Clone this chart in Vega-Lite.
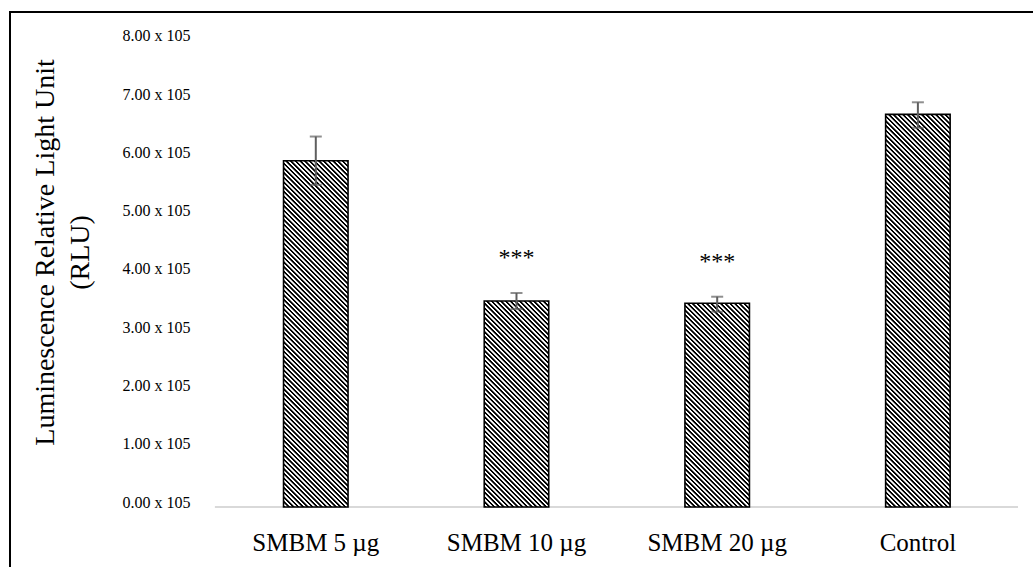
{
"$schema": "https://vega.github.io/schema/vega-lite/v6.json",
"width": 1023, "height": 555,
"autosize": {"type": "none"},
"padding": {"left": 10, "top": 12, "right": 0, "bottom": 0},
"background": "white",
"config": {"view": {"stroke": "#000", "strokeWidth": 2, "strokeDash": [1023, 1578, 555, 0], "strokeCap": "square"}, "font": "Liberation Serif"},
"data": {"values": [
 {"g": "SMBM 5 µg", "value": 594500, "lo": 553000, "hi": 636000, "star": ""},
 {"g": "SMBM 10 µg", "value": 353600, "lo": 339900, "hi": 367400, "star": "***"},
 {"g": "SMBM 20 µg", "value": 349700, "lo": 335300, "hi": 361000, "star": "***"},
 {"g": "Control", "value": 674000, "lo": 651000, "hi": 694800, "star": ""}
]},
"encoding": {
 "x": {"field": "g", "type": "nominal", "sort": null, "title": null,
  "scale": {"domain": ["SMBM 5 µg", "SMBM 10 µg", "SMBM 20 µg", "Control"], "paddingInner": 0.6786, "paddingOuter": 0.8879, "align": 0.7675},
  "axis": {"labelFont": "Liberation Serif", "labelFontSize": 25, "labelColor": "#000", "labelBaseline": "alphabetic", "labelPadding": -17, "ticks": false, "tickSize": 0, "domain": false, "grid": false, "labelAngle": 0}}
},
"layer": [
 {"mark": {"type": "rule", "color": "#d9d9d9", "strokeWidth": 2},
  "encoding": {"x": {"datum": "SMBM 5 µg", "bandPosition": -1.063}, "x2": {"datum": "Control", "bandPosition": 2.052}, "y": {"datum": 0, "type": "quantitative", "title": ["Luminescence Relative Light Unit", "(RLU)"]}}},
 {"mark": {"type": "bar", "stroke": "#000", "strokeWidth": 1.6},
  "encoding": {
   "y": {"field": "value", "type": "quantitative", "title": ["Luminescence Relative Light Unit", "(RLU)"],
    "scale": {"domain": [-103004, 849785], "zero": false, "nice": false},
    "axis": {"values": [0, 100000, 200000, 300000, 400000, 500000, 600000, 700000, 800000], "labelExpr": "format(datum.value/100000,'.2f') + ' x 105'", "grid": false, "domain": false, "ticks": false, "tickSize": 0, "labelPadding": -180, "labelFontSize": 16, "labelColor": "#000", "labelBaseline": "alphabetic", "labelFont": "Liberation Serif", "titleFont": "Liberation Serif", "titleFontSize": 28, "titleFontWeight": "normal", "titleColor": "#000", "titleX": 43, "titleY": 240, "titleAngle": -90, "titleAlign": "center", "titleBaseline": "alphabetic", "titleLineHeight": 35}},
   "y2": {"datum": 0},
   "fill": {"condition": [
     {"test": "datum.g == 'SMBM 5 µg'", "value": {"gradient": "linear", "x1": 0, "y1": 1, "x2": 0.2443, "y2": -0.3117, "stops": [
{"offset":0,"color":"#000"},{"offset":0.0035,"color":"#000"},{"offset":0.005,"color":"#fff"},{"offset":0.0085,"color":"#fff"},
{"offset":0.01,"color":"#000"},{"offset":0.0135,"color":"#000"},{"offset":0.015,"color":"#fff"},{"offset":0.0185,"color":"#fff"},
{"offset":0.02,"color":"#000"},{"offset":0.0235,"color":"#000"},{"offset":0.025,"color":"#fff"},{"offset":0.0285,"color":"#fff"},
{"offset":0.03,"color":"#000"},{"offset":0.0335,"color":"#000"},{"offset":0.035,"color":"#fff"},{"offset":0.0385,"color":"#fff"},
{"offset":0.04,"color":"#000"},{"offset":0.0435,"color":"#000"},{"offset":0.045,"color":"#fff"},{"offset":0.0485,"color":"#fff"},
{"offset":0.05,"color":"#000"},{"offset":0.0535,"color":"#000"},{"offset":0.055,"color":"#fff"},{"offset":0.0585,"color":"#fff"},
{"offset":0.06,"color":"#000"},{"offset":0.0635,"color":"#000"},{"offset":0.065,"color":"#fff"},{"offset":0.0685,"color":"#fff"},
{"offset":0.07,"color":"#000"},{"offset":0.0735,"color":"#000"},{"offset":0.075,"color":"#fff"},{"offset":0.0785,"color":"#fff"},
{"offset":0.08,"color":"#000"},{"offset":0.0835,"color":"#000"},{"offset":0.085,"color":"#fff"},{"offset":0.0885,"color":"#fff"},
{"offset":0.09,"color":"#000"},{"offset":0.0935,"color":"#000"},{"offset":0.095,"color":"#fff"},{"offset":0.0985,"color":"#fff"},
{"offset":0.1,"color":"#000"},{"offset":0.1035,"color":"#000"},{"offset":0.105,"color":"#fff"},{"offset":0.1085,"color":"#fff"},
{"offset":0.11,"color":"#000"},{"offset":0.1135,"color":"#000"},{"offset":0.115,"color":"#fff"},{"offset":0.1185,"color":"#fff"},
{"offset":0.12,"color":"#000"},{"offset":0.1235,"color":"#000"},{"offset":0.125,"color":"#fff"},{"offset":0.1285,"color":"#fff"},
{"offset":0.13,"color":"#000"},{"offset":0.1335,"color":"#000"},{"offset":0.135,"color":"#fff"},{"offset":0.1385,"color":"#fff"},
{"offset":0.14,"color":"#000"},{"offset":0.1435,"color":"#000"},{"offset":0.145,"color":"#fff"},{"offset":0.1485,"color":"#fff"},
{"offset":0.15,"color":"#000"},{"offset":0.1535,"color":"#000"},{"offset":0.155,"color":"#fff"},{"offset":0.1585,"color":"#fff"},
{"offset":0.16,"color":"#000"},{"offset":0.1635,"color":"#000"},{"offset":0.165,"color":"#fff"},{"offset":0.1685,"color":"#fff"},
{"offset":0.17,"color":"#000"},{"offset":0.1735,"color":"#000"},{"offset":0.175,"color":"#fff"},{"offset":0.1785,"color":"#fff"},
{"offset":0.18,"color":"#000"},{"offset":0.1835,"color":"#000"},{"offset":0.185,"color":"#fff"},{"offset":0.1885,"color":"#fff"},
{"offset":0.19,"color":"#000"},{"offset":0.1935,"color":"#000"},{"offset":0.195,"color":"#fff"},{"offset":0.1985,"color":"#fff"},
{"offset":0.2,"color":"#000"},{"offset":0.2035,"color":"#000"},{"offset":0.205,"color":"#fff"},{"offset":0.2085,"color":"#fff"},
{"offset":0.21,"color":"#000"},{"offset":0.2135,"color":"#000"},{"offset":0.215,"color":"#fff"},{"offset":0.2185,"color":"#fff"},
{"offset":0.22,"color":"#000"},{"offset":0.2235,"color":"#000"},{"offset":0.225,"color":"#fff"},{"offset":0.2285,"color":"#fff"},
{"offset":0.23,"color":"#000"},{"offset":0.2335,"color":"#000"},{"offset":0.235,"color":"#fff"},{"offset":0.2385,"color":"#fff"},
{"offset":0.24,"color":"#000"},{"offset":0.2435,"color":"#000"},{"offset":0.245,"color":"#fff"},{"offset":0.2485,"color":"#fff"},
{"offset":0.25,"color":"#000"},{"offset":0.2535,"color":"#000"},{"offset":0.255,"color":"#fff"},{"offset":0.2585,"color":"#fff"},
{"offset":0.26,"color":"#000"},{"offset":0.2635,"color":"#000"},{"offset":0.265,"color":"#fff"},{"offset":0.2685,"color":"#fff"},
{"offset":0.27,"color":"#000"},{"offset":0.2735,"color":"#000"},{"offset":0.275,"color":"#fff"},{"offset":0.2785,"color":"#fff"},
{"offset":0.28,"color":"#000"},{"offset":0.2835,"color":"#000"},{"offset":0.285,"color":"#fff"},{"offset":0.2885,"color":"#fff"},
{"offset":0.29,"color":"#000"},{"offset":0.2935,"color":"#000"},{"offset":0.295,"color":"#fff"},{"offset":0.2985,"color":"#fff"},
{"offset":0.3,"color":"#000"},{"offset":0.3035,"color":"#000"},{"offset":0.305,"color":"#fff"},{"offset":0.3085,"color":"#fff"},
{"offset":0.31,"color":"#000"},{"offset":0.3135,"color":"#000"},{"offset":0.315,"color":"#fff"},{"offset":0.3185,"color":"#fff"},
{"offset":0.32,"color":"#000"},{"offset":0.3235,"color":"#000"},{"offset":0.325,"color":"#fff"},{"offset":0.3285,"color":"#fff"},
{"offset":0.33,"color":"#000"},{"offset":0.3335,"color":"#000"},{"offset":0.335,"color":"#fff"},{"offset":0.3385,"color":"#fff"},
{"offset":0.34,"color":"#000"},{"offset":0.3435,"color":"#000"},{"offset":0.345,"color":"#fff"},{"offset":0.3485,"color":"#fff"},
{"offset":0.35,"color":"#000"},{"offset":0.3535,"color":"#000"},{"offset":0.355,"color":"#fff"},{"offset":0.3585,"color":"#fff"},
{"offset":0.36,"color":"#000"},{"offset":0.3635,"color":"#000"},{"offset":0.365,"color":"#fff"},{"offset":0.3685,"color":"#fff"},
{"offset":0.37,"color":"#000"},{"offset":0.3735,"color":"#000"},{"offset":0.375,"color":"#fff"},{"offset":0.3785,"color":"#fff"},
{"offset":0.38,"color":"#000"},{"offset":0.3835,"color":"#000"},{"offset":0.385,"color":"#fff"},{"offset":0.3885,"color":"#fff"},
{"offset":0.39,"color":"#000"},{"offset":0.3935,"color":"#000"},{"offset":0.395,"color":"#fff"},{"offset":0.3985,"color":"#fff"},
{"offset":0.4,"color":"#000"},{"offset":0.4035,"color":"#000"},{"offset":0.405,"color":"#fff"},{"offset":0.4085,"color":"#fff"},
{"offset":0.41,"color":"#000"},{"offset":0.4135,"color":"#000"},{"offset":0.415,"color":"#fff"},{"offset":0.4185,"color":"#fff"},
{"offset":0.42,"color":"#000"},{"offset":0.4235,"color":"#000"},{"offset":0.425,"color":"#fff"},{"offset":0.4285,"color":"#fff"},
{"offset":0.43,"color":"#000"},{"offset":0.4335,"color":"#000"},{"offset":0.435,"color":"#fff"},{"offset":0.4385,"color":"#fff"},
{"offset":0.44,"color":"#000"},{"offset":0.4435,"color":"#000"},{"offset":0.445,"color":"#fff"},{"offset":0.4485,"color":"#fff"},
{"offset":0.45,"color":"#000"},{"offset":0.4535,"color":"#000"},{"offset":0.455,"color":"#fff"},{"offset":0.4585,"color":"#fff"},
{"offset":0.46,"color":"#000"},{"offset":0.4635,"color":"#000"},{"offset":0.465,"color":"#fff"},{"offset":0.4685,"color":"#fff"},
{"offset":0.47,"color":"#000"},{"offset":0.4735,"color":"#000"},{"offset":0.475,"color":"#fff"},{"offset":0.4785,"color":"#fff"},
{"offset":0.48,"color":"#000"},{"offset":0.4835,"color":"#000"},{"offset":0.485,"color":"#fff"},{"offset":0.4885,"color":"#fff"},
{"offset":0.49,"color":"#000"},{"offset":0.4935,"color":"#000"},{"offset":0.495,"color":"#fff"},{"offset":0.4985,"color":"#fff"},
{"offset":0.5,"color":"#000"},{"offset":0.5035,"color":"#000"},{"offset":0.505,"color":"#fff"},{"offset":0.5085,"color":"#fff"},
{"offset":0.51,"color":"#000"},{"offset":0.5135,"color":"#000"},{"offset":0.515,"color":"#fff"},{"offset":0.5185,"color":"#fff"},
{"offset":0.52,"color":"#000"},{"offset":0.5235,"color":"#000"},{"offset":0.525,"color":"#fff"},{"offset":0.5285,"color":"#fff"},
{"offset":0.53,"color":"#000"},{"offset":0.5335,"color":"#000"},{"offset":0.535,"color":"#fff"},{"offset":0.5385,"color":"#fff"},
{"offset":0.54,"color":"#000"},{"offset":0.5435,"color":"#000"},{"offset":0.545,"color":"#fff"},{"offset":0.5485,"color":"#fff"},
{"offset":0.55,"color":"#000"},{"offset":0.5535,"color":"#000"},{"offset":0.555,"color":"#fff"},{"offset":0.5585,"color":"#fff"},
{"offset":0.56,"color":"#000"},{"offset":0.5635,"color":"#000"},{"offset":0.565,"color":"#fff"},{"offset":0.5685,"color":"#fff"},
{"offset":0.57,"color":"#000"},{"offset":0.5735,"color":"#000"},{"offset":0.575,"color":"#fff"},{"offset":0.5785,"color":"#fff"},
{"offset":0.58,"color":"#000"},{"offset":0.5835,"color":"#000"},{"offset":0.585,"color":"#fff"},{"offset":0.5885,"color":"#fff"},
{"offset":0.59,"color":"#000"},{"offset":0.5935,"color":"#000"},{"offset":0.595,"color":"#fff"},{"offset":0.5985,"color":"#fff"},
{"offset":0.6,"color":"#000"},{"offset":0.6035,"color":"#000"},{"offset":0.605,"color":"#fff"},{"offset":0.6085,"color":"#fff"},
{"offset":0.61,"color":"#000"},{"offset":0.6135,"color":"#000"},{"offset":0.615,"color":"#fff"},{"offset":0.6185,"color":"#fff"},
{"offset":0.62,"color":"#000"},{"offset":0.6235,"color":"#000"},{"offset":0.625,"color":"#fff"},{"offset":0.6285,"color":"#fff"},
{"offset":0.63,"color":"#000"},{"offset":0.6335,"color":"#000"},{"offset":0.635,"color":"#fff"},{"offset":0.6385,"color":"#fff"},
{"offset":0.64,"color":"#000"},{"offset":0.6435,"color":"#000"},{"offset":0.645,"color":"#fff"},{"offset":0.6485,"color":"#fff"},
{"offset":0.65,"color":"#000"},{"offset":0.6535,"color":"#000"},{"offset":0.655,"color":"#fff"},{"offset":0.6585,"color":"#fff"},
{"offset":0.66,"color":"#000"},{"offset":0.6635,"color":"#000"},{"offset":0.665,"color":"#fff"},{"offset":0.6685,"color":"#fff"},
{"offset":0.67,"color":"#000"},{"offset":0.6735,"color":"#000"},{"offset":0.675,"color":"#fff"},{"offset":0.6785,"color":"#fff"},
{"offset":0.68,"color":"#000"},{"offset":0.6835,"color":"#000"},{"offset":0.685,"color":"#fff"},{"offset":0.6885,"color":"#fff"},
{"offset":0.69,"color":"#000"},{"offset":0.6935,"color":"#000"},{"offset":0.695,"color":"#fff"},{"offset":0.6985,"color":"#fff"},
{"offset":0.7,"color":"#000"},{"offset":0.7035,"color":"#000"},{"offset":0.705,"color":"#fff"},{"offset":0.7085,"color":"#fff"},
{"offset":0.71,"color":"#000"},{"offset":0.7135,"color":"#000"},{"offset":0.715,"color":"#fff"},{"offset":0.7185,"color":"#fff"},
{"offset":0.72,"color":"#000"},{"offset":0.7235,"color":"#000"},{"offset":0.725,"color":"#fff"},{"offset":0.7285,"color":"#fff"},
{"offset":0.73,"color":"#000"},{"offset":0.7335,"color":"#000"},{"offset":0.735,"color":"#fff"},{"offset":0.7385,"color":"#fff"},
{"offset":0.74,"color":"#000"},{"offset":0.7435,"color":"#000"},{"offset":0.745,"color":"#fff"},{"offset":0.7485,"color":"#fff"},
{"offset":0.75,"color":"#000"},{"offset":0.7535,"color":"#000"},{"offset":0.755,"color":"#fff"},{"offset":0.7585,"color":"#fff"},
{"offset":0.76,"color":"#000"},{"offset":0.7635,"color":"#000"},{"offset":0.765,"color":"#fff"},{"offset":0.7685,"color":"#fff"},
{"offset":0.77,"color":"#000"},{"offset":0.7735,"color":"#000"},{"offset":0.775,"color":"#fff"},{"offset":0.7785,"color":"#fff"},
{"offset":0.78,"color":"#000"},{"offset":0.7835,"color":"#000"},{"offset":0.785,"color":"#fff"},{"offset":0.7885,"color":"#fff"},
{"offset":0.79,"color":"#000"},{"offset":0.7935,"color":"#000"},{"offset":0.795,"color":"#fff"},{"offset":0.7985,"color":"#fff"},
{"offset":0.8,"color":"#000"},{"offset":0.8035,"color":"#000"},{"offset":0.805,"color":"#fff"},{"offset":0.8085,"color":"#fff"},
{"offset":0.81,"color":"#000"},{"offset":0.8135,"color":"#000"},{"offset":0.815,"color":"#fff"},{"offset":0.8185,"color":"#fff"},
{"offset":0.82,"color":"#000"},{"offset":0.8235,"color":"#000"},{"offset":0.825,"color":"#fff"},{"offset":0.8285,"color":"#fff"},
{"offset":0.83,"color":"#000"},{"offset":0.8335,"color":"#000"},{"offset":0.835,"color":"#fff"},{"offset":0.8385,"color":"#fff"},
{"offset":0.84,"color":"#000"},{"offset":0.8435,"color":"#000"},{"offset":0.845,"color":"#fff"},{"offset":0.8485,"color":"#fff"},
{"offset":0.85,"color":"#000"},{"offset":0.8535,"color":"#000"},{"offset":0.855,"color":"#fff"},{"offset":0.8585,"color":"#fff"},
{"offset":0.86,"color":"#000"},{"offset":0.8635,"color":"#000"},{"offset":0.865,"color":"#fff"},{"offset":0.8685,"color":"#fff"},
{"offset":0.87,"color":"#000"},{"offset":0.8735,"color":"#000"},{"offset":0.875,"color":"#fff"},{"offset":0.8785,"color":"#fff"},
{"offset":0.88,"color":"#000"}
     ]}},
     {"test": "datum.g == 'Control'", "value": {"gradient": "linear", "x1": 0, "y1": 1, "x2": 0.1915, "y2": -0.1657, "stops": [
{"offset":0,"color":"#000"},{"offset":0.0035,"color":"#000"},{"offset":0.005,"color":"#fff"},{"offset":0.0085,"color":"#fff"},
{"offset":0.01,"color":"#000"},{"offset":0.0135,"color":"#000"},{"offset":0.015,"color":"#fff"},{"offset":0.0185,"color":"#fff"},
{"offset":0.02,"color":"#000"},{"offset":0.0235,"color":"#000"},{"offset":0.025,"color":"#fff"},{"offset":0.0285,"color":"#fff"},
{"offset":0.03,"color":"#000"},{"offset":0.0335,"color":"#000"},{"offset":0.035,"color":"#fff"},{"offset":0.0385,"color":"#fff"},
{"offset":0.04,"color":"#000"},{"offset":0.0435,"color":"#000"},{"offset":0.045,"color":"#fff"},{"offset":0.0485,"color":"#fff"},
{"offset":0.05,"color":"#000"},{"offset":0.0535,"color":"#000"},{"offset":0.055,"color":"#fff"},{"offset":0.0585,"color":"#fff"},
{"offset":0.06,"color":"#000"},{"offset":0.0635,"color":"#000"},{"offset":0.065,"color":"#fff"},{"offset":0.0685,"color":"#fff"},
{"offset":0.07,"color":"#000"},{"offset":0.0735,"color":"#000"},{"offset":0.075,"color":"#fff"},{"offset":0.0785,"color":"#fff"},
{"offset":0.08,"color":"#000"},{"offset":0.0835,"color":"#000"},{"offset":0.085,"color":"#fff"},{"offset":0.0885,"color":"#fff"},
{"offset":0.09,"color":"#000"},{"offset":0.0935,"color":"#000"},{"offset":0.095,"color":"#fff"},{"offset":0.0985,"color":"#fff"},
{"offset":0.1,"color":"#000"},{"offset":0.1035,"color":"#000"},{"offset":0.105,"color":"#fff"},{"offset":0.1085,"color":"#fff"},
{"offset":0.11,"color":"#000"},{"offset":0.1135,"color":"#000"},{"offset":0.115,"color":"#fff"},{"offset":0.1185,"color":"#fff"},
{"offset":0.12,"color":"#000"},{"offset":0.1235,"color":"#000"},{"offset":0.125,"color":"#fff"},{"offset":0.1285,"color":"#fff"},
{"offset":0.13,"color":"#000"},{"offset":0.1335,"color":"#000"},{"offset":0.135,"color":"#fff"},{"offset":0.1385,"color":"#fff"},
{"offset":0.14,"color":"#000"},{"offset":0.1435,"color":"#000"},{"offset":0.145,"color":"#fff"},{"offset":0.1485,"color":"#fff"},
{"offset":0.15,"color":"#000"},{"offset":0.1535,"color":"#000"},{"offset":0.155,"color":"#fff"},{"offset":0.1585,"color":"#fff"},
{"offset":0.16,"color":"#000"},{"offset":0.1635,"color":"#000"},{"offset":0.165,"color":"#fff"},{"offset":0.1685,"color":"#fff"},
{"offset":0.17,"color":"#000"},{"offset":0.1735,"color":"#000"},{"offset":0.175,"color":"#fff"},{"offset":0.1785,"color":"#fff"},
{"offset":0.18,"color":"#000"},{"offset":0.1835,"color":"#000"},{"offset":0.185,"color":"#fff"},{"offset":0.1885,"color":"#fff"},
{"offset":0.19,"color":"#000"},{"offset":0.1935,"color":"#000"},{"offset":0.195,"color":"#fff"},{"offset":0.1985,"color":"#fff"},
{"offset":0.2,"color":"#000"},{"offset":0.2035,"color":"#000"},{"offset":0.205,"color":"#fff"},{"offset":0.2085,"color":"#fff"},
{"offset":0.21,"color":"#000"},{"offset":0.2135,"color":"#000"},{"offset":0.215,"color":"#fff"},{"offset":0.2185,"color":"#fff"},
{"offset":0.22,"color":"#000"},{"offset":0.2235,"color":"#000"},{"offset":0.225,"color":"#fff"},{"offset":0.2285,"color":"#fff"},
{"offset":0.23,"color":"#000"},{"offset":0.2335,"color":"#000"},{"offset":0.235,"color":"#fff"},{"offset":0.2385,"color":"#fff"},
{"offset":0.24,"color":"#000"},{"offset":0.2435,"color":"#000"},{"offset":0.245,"color":"#fff"},{"offset":0.2485,"color":"#fff"},
{"offset":0.25,"color":"#000"},{"offset":0.2535,"color":"#000"},{"offset":0.255,"color":"#fff"},{"offset":0.2585,"color":"#fff"},
{"offset":0.26,"color":"#000"},{"offset":0.2635,"color":"#000"},{"offset":0.265,"color":"#fff"},{"offset":0.2685,"color":"#fff"},
{"offset":0.27,"color":"#000"},{"offset":0.2735,"color":"#000"},{"offset":0.275,"color":"#fff"},{"offset":0.2785,"color":"#fff"},
{"offset":0.28,"color":"#000"},{"offset":0.2835,"color":"#000"},{"offset":0.285,"color":"#fff"},{"offset":0.2885,"color":"#fff"},
{"offset":0.29,"color":"#000"},{"offset":0.2935,"color":"#000"},{"offset":0.295,"color":"#fff"},{"offset":0.2985,"color":"#fff"},
{"offset":0.3,"color":"#000"},{"offset":0.3035,"color":"#000"},{"offset":0.305,"color":"#fff"},{"offset":0.3085,"color":"#fff"},
{"offset":0.31,"color":"#000"},{"offset":0.3135,"color":"#000"},{"offset":0.315,"color":"#fff"},{"offset":0.3185,"color":"#fff"},
{"offset":0.32,"color":"#000"},{"offset":0.3235,"color":"#000"},{"offset":0.325,"color":"#fff"},{"offset":0.3285,"color":"#fff"},
{"offset":0.33,"color":"#000"},{"offset":0.3335,"color":"#000"},{"offset":0.335,"color":"#fff"},{"offset":0.3385,"color":"#fff"},
{"offset":0.34,"color":"#000"},{"offset":0.3435,"color":"#000"},{"offset":0.345,"color":"#fff"},{"offset":0.3485,"color":"#fff"},
{"offset":0.35,"color":"#000"},{"offset":0.3535,"color":"#000"},{"offset":0.355,"color":"#fff"},{"offset":0.3585,"color":"#fff"},
{"offset":0.36,"color":"#000"},{"offset":0.3635,"color":"#000"},{"offset":0.365,"color":"#fff"},{"offset":0.3685,"color":"#fff"},
{"offset":0.37,"color":"#000"},{"offset":0.3735,"color":"#000"},{"offset":0.375,"color":"#fff"},{"offset":0.3785,"color":"#fff"},
{"offset":0.38,"color":"#000"},{"offset":0.3835,"color":"#000"},{"offset":0.385,"color":"#fff"},{"offset":0.3885,"color":"#fff"},
{"offset":0.39,"color":"#000"},{"offset":0.3935,"color":"#000"},{"offset":0.395,"color":"#fff"},{"offset":0.3985,"color":"#fff"},
{"offset":0.4,"color":"#000"},{"offset":0.4035,"color":"#000"},{"offset":0.405,"color":"#fff"},{"offset":0.4085,"color":"#fff"},
{"offset":0.41,"color":"#000"},{"offset":0.4135,"color":"#000"},{"offset":0.415,"color":"#fff"},{"offset":0.4185,"color":"#fff"},
{"offset":0.42,"color":"#000"},{"offset":0.4235,"color":"#000"},{"offset":0.425,"color":"#fff"},{"offset":0.4285,"color":"#fff"},
{"offset":0.43,"color":"#000"},{"offset":0.4335,"color":"#000"},{"offset":0.435,"color":"#fff"},{"offset":0.4385,"color":"#fff"},
{"offset":0.44,"color":"#000"},{"offset":0.4435,"color":"#000"},{"offset":0.445,"color":"#fff"},{"offset":0.4485,"color":"#fff"},
{"offset":0.45,"color":"#000"},{"offset":0.4535,"color":"#000"},{"offset":0.455,"color":"#fff"},{"offset":0.4585,"color":"#fff"},
{"offset":0.46,"color":"#000"},{"offset":0.4635,"color":"#000"},{"offset":0.465,"color":"#fff"},{"offset":0.4685,"color":"#fff"},
{"offset":0.47,"color":"#000"},{"offset":0.4735,"color":"#000"},{"offset":0.475,"color":"#fff"},{"offset":0.4785,"color":"#fff"},
{"offset":0.48,"color":"#000"},{"offset":0.4835,"color":"#000"},{"offset":0.485,"color":"#fff"},{"offset":0.4885,"color":"#fff"},
{"offset":0.49,"color":"#000"},{"offset":0.4935,"color":"#000"},{"offset":0.495,"color":"#fff"},{"offset":0.4985,"color":"#fff"},
{"offset":0.5,"color":"#000"},{"offset":0.5035,"color":"#000"},{"offset":0.505,"color":"#fff"},{"offset":0.5085,"color":"#fff"},
{"offset":0.51,"color":"#000"},{"offset":0.5135,"color":"#000"},{"offset":0.515,"color":"#fff"},{"offset":0.5185,"color":"#fff"},
{"offset":0.52,"color":"#000"},{"offset":0.5235,"color":"#000"},{"offset":0.525,"color":"#fff"},{"offset":0.5285,"color":"#fff"},
{"offset":0.53,"color":"#000"},{"offset":0.5335,"color":"#000"},{"offset":0.535,"color":"#fff"},{"offset":0.5385,"color":"#fff"},
{"offset":0.54,"color":"#000"},{"offset":0.5435,"color":"#000"},{"offset":0.545,"color":"#fff"},{"offset":0.5485,"color":"#fff"},
{"offset":0.55,"color":"#000"},{"offset":0.5535,"color":"#000"},{"offset":0.555,"color":"#fff"},{"offset":0.5585,"color":"#fff"},
{"offset":0.56,"color":"#000"},{"offset":0.5635,"color":"#000"},{"offset":0.565,"color":"#fff"},{"offset":0.5685,"color":"#fff"},
{"offset":0.57,"color":"#000"},{"offset":0.5735,"color":"#000"},{"offset":0.575,"color":"#fff"},{"offset":0.5785,"color":"#fff"},
{"offset":0.58,"color":"#000"},{"offset":0.5835,"color":"#000"},{"offset":0.585,"color":"#fff"},{"offset":0.5885,"color":"#fff"},
{"offset":0.59,"color":"#000"},{"offset":0.5935,"color":"#000"},{"offset":0.595,"color":"#fff"},{"offset":0.5985,"color":"#fff"},
{"offset":0.6,"color":"#000"},{"offset":0.6035,"color":"#000"},{"offset":0.605,"color":"#fff"},{"offset":0.6085,"color":"#fff"},
{"offset":0.61,"color":"#000"},{"offset":0.6135,"color":"#000"},{"offset":0.615,"color":"#fff"},{"offset":0.6185,"color":"#fff"},
{"offset":0.62,"color":"#000"},{"offset":0.6235,"color":"#000"},{"offset":0.625,"color":"#fff"},{"offset":0.6285,"color":"#fff"},
{"offset":0.63,"color":"#000"},{"offset":0.6335,"color":"#000"},{"offset":0.635,"color":"#fff"},{"offset":0.6385,"color":"#fff"},
{"offset":0.64,"color":"#000"},{"offset":0.6435,"color":"#000"},{"offset":0.645,"color":"#fff"},{"offset":0.6485,"color":"#fff"},
{"offset":0.65,"color":"#000"},{"offset":0.6535,"color":"#000"},{"offset":0.655,"color":"#fff"},{"offset":0.6585,"color":"#fff"},
{"offset":0.66,"color":"#000"},{"offset":0.6635,"color":"#000"},{"offset":0.665,"color":"#fff"},{"offset":0.6685,"color":"#fff"},
{"offset":0.67,"color":"#000"},{"offset":0.6735,"color":"#000"},{"offset":0.675,"color":"#fff"},{"offset":0.6785,"color":"#fff"},
{"offset":0.68,"color":"#000"},{"offset":0.6835,"color":"#000"},{"offset":0.685,"color":"#fff"},{"offset":0.6885,"color":"#fff"},
{"offset":0.69,"color":"#000"},{"offset":0.6935,"color":"#000"},{"offset":0.695,"color":"#fff"},{"offset":0.6985,"color":"#fff"},
{"offset":0.7,"color":"#000"},{"offset":0.7035,"color":"#000"},{"offset":0.705,"color":"#fff"},{"offset":0.7085,"color":"#fff"},
{"offset":0.71,"color":"#000"},{"offset":0.7135,"color":"#000"},{"offset":0.715,"color":"#fff"},{"offset":0.7185,"color":"#fff"},
{"offset":0.72,"color":"#000"},{"offset":0.7235,"color":"#000"},{"offset":0.725,"color":"#fff"},{"offset":0.7285,"color":"#fff"},
{"offset":0.73,"color":"#000"},{"offset":0.7335,"color":"#000"},{"offset":0.735,"color":"#fff"},{"offset":0.7385,"color":"#fff"},
{"offset":0.74,"color":"#000"},{"offset":0.7435,"color":"#000"},{"offset":0.745,"color":"#fff"},{"offset":0.7485,"color":"#fff"},
{"offset":0.75,"color":"#000"},{"offset":0.7535,"color":"#000"},{"offset":0.755,"color":"#fff"},{"offset":0.7585,"color":"#fff"},
{"offset":0.76,"color":"#000"},{"offset":0.7635,"color":"#000"},{"offset":0.765,"color":"#fff"},{"offset":0.7685,"color":"#fff"},
{"offset":0.77,"color":"#000"},{"offset":0.7735,"color":"#000"},{"offset":0.775,"color":"#fff"},{"offset":0.7785,"color":"#fff"},
{"offset":0.78,"color":"#000"},{"offset":0.7835,"color":"#000"},{"offset":0.785,"color":"#fff"},{"offset":0.7885,"color":"#fff"},
{"offset":0.79,"color":"#000"},{"offset":0.7935,"color":"#000"},{"offset":0.795,"color":"#fff"},{"offset":0.7985,"color":"#fff"},
{"offset":0.8,"color":"#000"},{"offset":0.8035,"color":"#000"},{"offset":0.805,"color":"#fff"},{"offset":0.8085,"color":"#fff"},
{"offset":0.81,"color":"#000"},{"offset":0.8135,"color":"#000"},{"offset":0.815,"color":"#fff"},{"offset":0.8185,"color":"#fff"},
{"offset":0.82,"color":"#000"},{"offset":0.8235,"color":"#000"},{"offset":0.825,"color":"#fff"},{"offset":0.8285,"color":"#fff"},
{"offset":0.83,"color":"#000"},{"offset":0.8335,"color":"#000"},{"offset":0.835,"color":"#fff"},{"offset":0.8385,"color":"#fff"},
{"offset":0.84,"color":"#000"},{"offset":0.8435,"color":"#000"},{"offset":0.845,"color":"#fff"},{"offset":0.8485,"color":"#fff"},
{"offset":0.85,"color":"#000"},{"offset":0.8535,"color":"#000"},{"offset":0.855,"color":"#fff"},{"offset":0.8585,"color":"#fff"},
{"offset":0.86,"color":"#000"},{"offset":0.8635,"color":"#000"},{"offset":0.865,"color":"#fff"},{"offset":0.8685,"color":"#fff"},
{"offset":0.87,"color":"#000"},{"offset":0.8735,"color":"#000"},{"offset":0.875,"color":"#fff"},{"offset":0.8785,"color":"#fff"},
{"offset":0.88,"color":"#000"},{"offset":0.8835,"color":"#000"},{"offset":0.885,"color":"#fff"},{"offset":0.8885,"color":"#fff"},
{"offset":0.89,"color":"#000"},{"offset":0.8935,"color":"#000"},{"offset":0.895,"color":"#fff"},{"offset":0.8985,"color":"#fff"},
{"offset":0.9,"color":"#000"},{"offset":0.9035,"color":"#000"},{"offset":0.905,"color":"#fff"},{"offset":0.9085,"color":"#fff"},
{"offset":0.91,"color":"#000"},{"offset":0.9135,"color":"#000"},{"offset":0.915,"color":"#fff"},{"offset":0.9185,"color":"#fff"},
{"offset":0.92,"color":"#000"},{"offset":0.9235,"color":"#000"},{"offset":0.925,"color":"#fff"},{"offset":0.9285,"color":"#fff"},
{"offset":0.93,"color":"#000"},{"offset":0.9335,"color":"#000"},{"offset":0.935,"color":"#fff"},{"offset":0.9385,"color":"#fff"},
{"offset":0.94,"color":"#000"},{"offset":0.9435,"color":"#000"},{"offset":0.945,"color":"#fff"},{"offset":0.9485,"color":"#fff"},
{"offset":0.95,"color":"#000"},{"offset":0.9535,"color":"#000"},{"offset":0.955,"color":"#fff"},{"offset":0.9585,"color":"#fff"},
{"offset":0.96,"color":"#000"},{"offset":0.9635,"color":"#000"},{"offset":0.965,"color":"#fff"},{"offset":0.9685,"color":"#fff"},
{"offset":0.97,"color":"#000"},{"offset":0.9735,"color":"#000"},{"offset":0.975,"color":"#fff"},{"offset":0.9785,"color":"#fff"},
{"offset":0.98,"color":"#000"}
     ]}}
    ],
    "value": {"gradient": "linear", "x1": 0, "y1": 1, "x2": 0.6564, "y2": -1.0863, "stops": [
{"offset":0,"color":"#000"},{"offset":0.0035,"color":"#000"},{"offset":0.005,"color":"#fff"},{"offset":0.0085,"color":"#fff"},
{"offset":0.01,"color":"#000"},{"offset":0.0135,"color":"#000"},{"offset":0.015,"color":"#fff"},{"offset":0.0185,"color":"#fff"},
{"offset":0.02,"color":"#000"},{"offset":0.0235,"color":"#000"},{"offset":0.025,"color":"#fff"},{"offset":0.0285,"color":"#fff"},
{"offset":0.03,"color":"#000"},{"offset":0.0335,"color":"#000"},{"offset":0.035,"color":"#fff"},{"offset":0.0385,"color":"#fff"},
{"offset":0.04,"color":"#000"},{"offset":0.0435,"color":"#000"},{"offset":0.045,"color":"#fff"},{"offset":0.0485,"color":"#fff"},
{"offset":0.05,"color":"#000"},{"offset":0.0535,"color":"#000"},{"offset":0.055,"color":"#fff"},{"offset":0.0585,"color":"#fff"},
{"offset":0.06,"color":"#000"},{"offset":0.0635,"color":"#000"},{"offset":0.065,"color":"#fff"},{"offset":0.0685,"color":"#fff"},
{"offset":0.07,"color":"#000"},{"offset":0.0735,"color":"#000"},{"offset":0.075,"color":"#fff"},{"offset":0.0785,"color":"#fff"},
{"offset":0.08,"color":"#000"},{"offset":0.0835,"color":"#000"},{"offset":0.085,"color":"#fff"},{"offset":0.0885,"color":"#fff"},
{"offset":0.09,"color":"#000"},{"offset":0.0935,"color":"#000"},{"offset":0.095,"color":"#fff"},{"offset":0.0985,"color":"#fff"},
{"offset":0.1,"color":"#000"},{"offset":0.1035,"color":"#000"},{"offset":0.105,"color":"#fff"},{"offset":0.1085,"color":"#fff"},
{"offset":0.11,"color":"#000"},{"offset":0.1135,"color":"#000"},{"offset":0.115,"color":"#fff"},{"offset":0.1185,"color":"#fff"},
{"offset":0.12,"color":"#000"},{"offset":0.1235,"color":"#000"},{"offset":0.125,"color":"#fff"},{"offset":0.1285,"color":"#fff"},
{"offset":0.13,"color":"#000"},{"offset":0.1335,"color":"#000"},{"offset":0.135,"color":"#fff"},{"offset":0.1385,"color":"#fff"},
{"offset":0.14,"color":"#000"},{"offset":0.1435,"color":"#000"},{"offset":0.145,"color":"#fff"},{"offset":0.1485,"color":"#fff"},
{"offset":0.15,"color":"#000"},{"offset":0.1535,"color":"#000"},{"offset":0.155,"color":"#fff"},{"offset":0.1585,"color":"#fff"},
{"offset":0.16,"color":"#000"},{"offset":0.1635,"color":"#000"},{"offset":0.165,"color":"#fff"},{"offset":0.1685,"color":"#fff"},
{"offset":0.17,"color":"#000"},{"offset":0.1735,"color":"#000"},{"offset":0.175,"color":"#fff"},{"offset":0.1785,"color":"#fff"},
{"offset":0.18,"color":"#000"},{"offset":0.1835,"color":"#000"},{"offset":0.185,"color":"#fff"},{"offset":0.1885,"color":"#fff"},
{"offset":0.19,"color":"#000"},{"offset":0.1935,"color":"#000"},{"offset":0.195,"color":"#fff"},{"offset":0.1985,"color":"#fff"},
{"offset":0.2,"color":"#000"},{"offset":0.2035,"color":"#000"},{"offset":0.205,"color":"#fff"},{"offset":0.2085,"color":"#fff"},
{"offset":0.21,"color":"#000"},{"offset":0.2135,"color":"#000"},{"offset":0.215,"color":"#fff"},{"offset":0.2185,"color":"#fff"},
{"offset":0.22,"color":"#000"},{"offset":0.2235,"color":"#000"},{"offset":0.225,"color":"#fff"},{"offset":0.2285,"color":"#fff"},
{"offset":0.23,"color":"#000"},{"offset":0.2335,"color":"#000"},{"offset":0.235,"color":"#fff"},{"offset":0.2385,"color":"#fff"},
{"offset":0.24,"color":"#000"},{"offset":0.2435,"color":"#000"},{"offset":0.245,"color":"#fff"},{"offset":0.2485,"color":"#fff"},
{"offset":0.25,"color":"#000"},{"offset":0.2535,"color":"#000"},{"offset":0.255,"color":"#fff"},{"offset":0.2585,"color":"#fff"},
{"offset":0.26,"color":"#000"},{"offset":0.2635,"color":"#000"},{"offset":0.265,"color":"#fff"},{"offset":0.2685,"color":"#fff"},
{"offset":0.27,"color":"#000"},{"offset":0.2735,"color":"#000"},{"offset":0.275,"color":"#fff"},{"offset":0.2785,"color":"#fff"},
{"offset":0.28,"color":"#000"},{"offset":0.2835,"color":"#000"},{"offset":0.285,"color":"#fff"},{"offset":0.2885,"color":"#fff"},
{"offset":0.29,"color":"#000"},{"offset":0.2935,"color":"#000"},{"offset":0.295,"color":"#fff"},{"offset":0.2985,"color":"#fff"},
{"offset":0.3,"color":"#000"},{"offset":0.3035,"color":"#000"},{"offset":0.305,"color":"#fff"},{"offset":0.3085,"color":"#fff"},
{"offset":0.31,"color":"#000"},{"offset":0.3135,"color":"#000"},{"offset":0.315,"color":"#fff"},{"offset":0.3185,"color":"#fff"},
{"offset":0.32,"color":"#000"},{"offset":0.3235,"color":"#000"},{"offset":0.325,"color":"#fff"},{"offset":0.3285,"color":"#fff"},
{"offset":0.33,"color":"#000"},{"offset":0.3335,"color":"#000"},{"offset":0.335,"color":"#fff"},{"offset":0.3385,"color":"#fff"},
{"offset":0.34,"color":"#000"},{"offset":0.3435,"color":"#000"},{"offset":0.345,"color":"#fff"},{"offset":0.3485,"color":"#fff"},
{"offset":0.35,"color":"#000"},{"offset":0.3535,"color":"#000"},{"offset":0.355,"color":"#fff"},{"offset":0.3585,"color":"#fff"},
{"offset":0.36,"color":"#000"},{"offset":0.3635,"color":"#000"},{"offset":0.365,"color":"#fff"},{"offset":0.3685,"color":"#fff"},
{"offset":0.37,"color":"#000"},{"offset":0.3735,"color":"#000"},{"offset":0.375,"color":"#fff"},{"offset":0.3785,"color":"#fff"},
{"offset":0.38,"color":"#000"},{"offset":0.3835,"color":"#000"},{"offset":0.385,"color":"#fff"},{"offset":0.3885,"color":"#fff"},
{"offset":0.39,"color":"#000"},{"offset":0.3935,"color":"#000"},{"offset":0.395,"color":"#fff"},{"offset":0.3985,"color":"#fff"},
{"offset":0.4,"color":"#000"},{"offset":0.4035,"color":"#000"},{"offset":0.405,"color":"#fff"},{"offset":0.4085,"color":"#fff"},
{"offset":0.41,"color":"#000"},{"offset":0.4135,"color":"#000"},{"offset":0.415,"color":"#fff"},{"offset":0.4185,"color":"#fff"},
{"offset":0.42,"color":"#000"},{"offset":0.4235,"color":"#000"},{"offset":0.425,"color":"#fff"},{"offset":0.4285,"color":"#fff"},
{"offset":0.43,"color":"#000"},{"offset":0.4335,"color":"#000"},{"offset":0.435,"color":"#fff"},{"offset":0.4385,"color":"#fff"},
{"offset":0.44,"color":"#000"},{"offset":0.4435,"color":"#000"},{"offset":0.445,"color":"#fff"},{"offset":0.4485,"color":"#fff"},
{"offset":0.45,"color":"#000"},{"offset":0.4535,"color":"#000"},{"offset":0.455,"color":"#fff"},{"offset":0.4585,"color":"#fff"},
{"offset":0.46,"color":"#000"},{"offset":0.4635,"color":"#000"},{"offset":0.465,"color":"#fff"},{"offset":0.4685,"color":"#fff"},
{"offset":0.47,"color":"#000"},{"offset":0.4735,"color":"#000"},{"offset":0.475,"color":"#fff"},{"offset":0.4785,"color":"#fff"},
{"offset":0.48,"color":"#000"},{"offset":0.4835,"color":"#000"},{"offset":0.485,"color":"#fff"},{"offset":0.4885,"color":"#fff"},
{"offset":0.49,"color":"#000"},{"offset":0.4935,"color":"#000"},{"offset":0.495,"color":"#fff"},{"offset":0.4985,"color":"#fff"},
{"offset":0.5,"color":"#000"},{"offset":0.5035,"color":"#000"},{"offset":0.505,"color":"#fff"},{"offset":0.5085,"color":"#fff"},
{"offset":0.51,"color":"#000"},{"offset":0.5135,"color":"#000"},{"offset":0.515,"color":"#fff"},{"offset":0.5185,"color":"#fff"},
{"offset":0.52,"color":"#000"},{"offset":0.5235,"color":"#000"},{"offset":0.525,"color":"#fff"},{"offset":0.5285,"color":"#fff"},
{"offset":0.53,"color":"#000"},{"offset":0.5335,"color":"#000"},{"offset":0.535,"color":"#fff"},{"offset":0.5385,"color":"#fff"},
{"offset":0.54,"color":"#000"},{"offset":0.5435,"color":"#000"},{"offset":0.545,"color":"#fff"},{"offset":0.5485,"color":"#fff"},
{"offset":0.55,"color":"#000"},{"offset":0.5535,"color":"#000"},{"offset":0.555,"color":"#fff"},{"offset":0.5585,"color":"#fff"},
{"offset":0.56,"color":"#000"},{"offset":0.5635,"color":"#000"},{"offset":0.565,"color":"#fff"},{"offset":0.5685,"color":"#fff"},
{"offset":0.57,"color":"#000"},{"offset":0.5735,"color":"#000"},{"offset":0.575,"color":"#fff"},{"offset":0.5785,"color":"#fff"},
{"offset":0.58,"color":"#000"}
    ]}}
  }},
 {"mark": {"type": "errorbar", "ticks": {"size": 12, "color": "#5f5f5f", "thickness": 2}, "rule": {"color": "#5f5f5f", "strokeWidth": 2}},
  "encoding": {"y": {"field": "lo", "type": "quantitative", "title": ["Luminescence Relative Light Unit", "(RLU)"]}, "y2": {"field": "hi"}}},
 {"mark": {"type": "text", "fontSize": 24, "baseline": "alphabetic", "dy": -27.5, "font": "Liberation Serif", "color": "#000"},
  "encoding": {"y": {"field": "hi", "type": "quantitative", "title": ["Luminescence Relative Light Unit", "(RLU)"]}, "text": {"field": "star"}}}
]
}
